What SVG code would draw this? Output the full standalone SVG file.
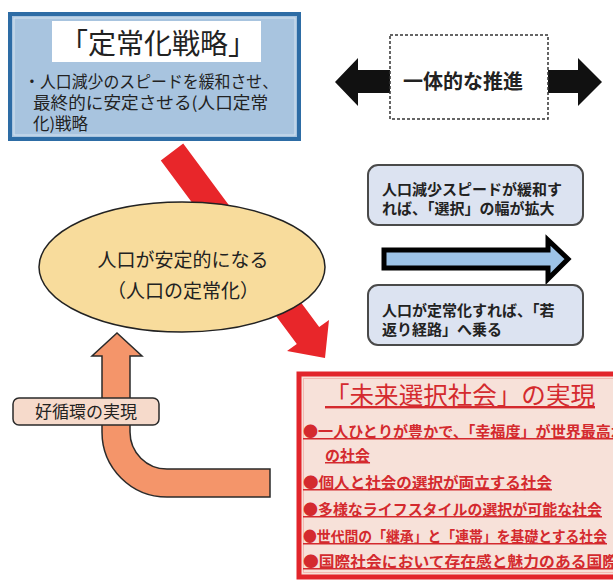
<svg xmlns="http://www.w3.org/2000/svg" width="613" height="581" viewBox="0 0 613 581">
<style>
text{font-family:"Noto Sans CJK JP","Noto Sans CJK SC",sans-serif;fill:#222}
.b{font-weight:bold}
.red{fill:#D42A2E;text-decoration:underline}
.rbox{fill:#DCE3F1;stroke:#4a4a4a;stroke-width:2}
.blk{fill:#111}
</style>
<rect width="613" height="581" fill="#fff"/>
<g id="connectors">
<polygon fill="#E8262A" points="183.2,143.6 319.2,327.1 329,320 325,358 287,351 296.8,343.9 160.8,160.4"/>
<path d="M102 356 L92 356 L117 333 L142 356 L130 356 L130 432 A37 37 0 0 0 167 469 L270 469 L270 497 L167 497 A65 65 0 0 1 102 432 Z" fill="#F4956A" stroke="#2a2a2a" stroke-width="1.5"/>
<polygon points="384,250 548,250 548,240 568,259 548,279 548,268 384,268" fill="#9DC3E6" stroke="#000" stroke-width="5" stroke-linejoin="miter"/>
<polygon class="blk" points="335,82 358,58 358,70 395,70 395,93 358,93 358,106"/>
<polygon class="blk" points="602,82 578,58 578,70 545,70 545,93 578,93 578,106"/>
</g>
<g id="strategy">
<rect x="10" y="14" width="289" height="125" fill="#A8C4DF" stroke="#2D6CA5" stroke-width="4"/>
<rect x="14" y="18" width="281" height="117" fill="none" stroke="#D5E3F0" stroke-width="1"/>
<rect x="52" y="21" width="209" height="41" fill="#fff"/>
<text x="158" y="54" font-size="28" text-anchor="middle">「定常化戦略」</text>
<text x="24" y="88" font-size="16.5" textLength="254" lengthAdjust="spacingAndGlyphs">・人口減少のスピードを緩和させ、</text>
<text x="33" y="109" font-size="16.5" textLength="235" lengthAdjust="spacingAndGlyphs">最終的に安定させる(人口定常</text>
<text x="33" y="130" font-size="16.5">化)戦略</text>
</g>
<g id="promotion">
<rect x="390" y="35" width="158" height="84" fill="#fff" stroke="#333" stroke-width="1.5" stroke-dasharray="3,2"/>
<text x="463" y="89" font-size="20" class="b" text-anchor="middle">一体的な推進</text>
</g>
<g id="stable">
<ellipse cx="182" cy="267" rx="143" ry="65" fill="#F8DC9C" stroke="#222" stroke-width="1.5"/>
<text x="183" y="267" font-size="19" text-anchor="middle">人口が安定的になる</text>
<text x="183" y="298" font-size="19" text-anchor="middle">（人口の定常化）</text>
</g>
<g id="slowdown">
<rect class="rbox" x="368" y="165" width="215" height="60" rx="10"/>
<text x="382" y="195" font-size="15" class="b">人口減少スピードが緩和す</text>
<text x="382" y="214" font-size="15" class="b">れば、「選択」の幅が拡大</text>
</g>
<g id="rejuvenate">
<rect class="rbox" x="368" y="285" width="215" height="60" rx="10"/>
<text x="382" y="316" font-size="15" class="b">人口が定常化すれば、「若</text>
<text x="382" y="335" font-size="15" class="b">返り経路」へ乗る</text>
</g>
<g id="cycle">
<rect x="13" y="398" width="146" height="27" rx="6" fill="#F6DACB" stroke="#2a2a2a" stroke-width="1.5"/>
<text x="86" y="418" font-size="17" text-anchor="middle">好循環の実現</text>
</g>
<g id="future">
<rect x="299" y="374" width="330" height="203" fill="#F7E1D9" stroke="#E2252B" stroke-width="5"/>
<rect x="303.5" y="378.5" width="330" height="194" fill="none" stroke="#F2B8B0" stroke-width="1"/>
<text x="325" y="404" font-size="24" class="red" textLength="270" lengthAdjust="spacingAndGlyphs">「未来選択社会」の実現</text>
<text x="303" y="437" font-size="15" class="b red" textLength="323" lengthAdjust="spacingAndGlyphs">●一人ひとりが豊かで、「幸福度」が世界最高水</text>
<text x="325" y="461" font-size="15" class="b red">の社会</text>
<text x="303" y="488" font-size="15" class="b red" textLength="249" lengthAdjust="spacingAndGlyphs">●個人と社会の選択が両立する社会</text>
<text x="303" y="515" font-size="15" class="b red" textLength="299" lengthAdjust="spacingAndGlyphs">●多様なライフスタイルの選択が可能な社会</text>
<text x="303" y="542" font-size="15" class="b red" textLength="304" lengthAdjust="spacingAndGlyphs">●世代間の「継承」と「連帯」を基礎とする社会</text>
<text x="303" y="567" font-size="15" class="b red" textLength="315" lengthAdjust="spacingAndGlyphs">●国際社会において存在感と魅力のある国際</text>
</g>
</svg>
